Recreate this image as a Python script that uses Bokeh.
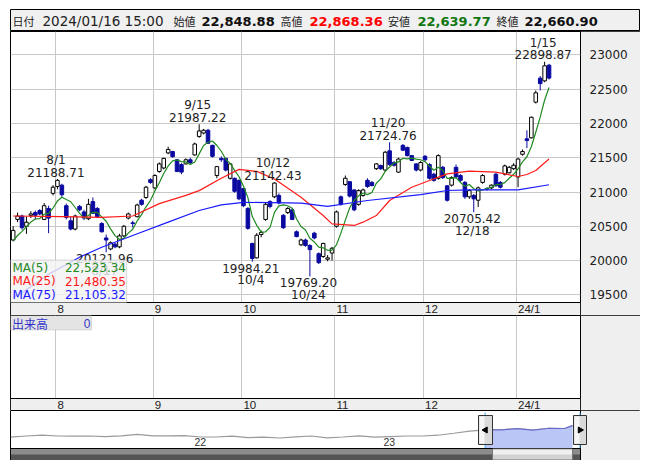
import numpy as np
import pandas as pd
from bokeh.plotting import figure
from bokeh.models import Range1d, FixedTicker, Label, BoxAnnotation, ColumnDataSource, Grid
from bokeh.layouts import column
from bokeh.embed import file_html
from bokeh.resources import INLINE

# ---------------- data ----------------
opens = [20300, 20600, 20650, 20500, 20660, 20700, 20730, 20600, 20760, 20980,
         21080, 21100, 20800, 20580, 20460, 20790, 20710, 20610, 20860, 20760,
         20540, 20330, 20170, 20240, 20200, 20360, 20620, 20550, 20640, 20880,
         20920, 21180, 21060, 21300, 21350, 21570, 21590, 21470, 21400, 21410,
         21470, 21540, 21810, 21860, 21900, 21680, 21240, 21490, 21490, 21200,
         21200, 21170, 21050, 20760, 20250, 20040, 20380, 20600, 20860, 20930,
         20950, 20660, 20700, 20740, 20420, 20230, 20300, 20220, 20400, 20100,
         20060, 20020, 20110, 20500, 20930, 21110, 21150, 21030, 20820, 20950,
         21170, 21140, 21340, 21385, 21320, 21600, 21430, 21290, 21680, 21650,
         21530, 21410, 21320, 21520, 21400, 21260, 21200, 21360, 21090, 21100,
         21360, 21240, 21140, 20930, 20950, 20880, 21140, 21050, 21060, 21260,
         21140, 21260, 21280, 21340, 21220, 21550, 21775, 21790, 22310, 22660,
         22620, 22848.88]
highs = [20500, 20700, 20670, 20640, 20720, 20730, 20750, 20840, 20800, 21100,
         21188.71, 21120, 20830, 20640, 20670, 20810, 20740, 20900, 20920, 20780,
         20560, 20380, 20280, 20260, 20390, 20520, 20700, 20580, 20830, 20900,
         21090, 21200, 21260, 21430, 21500, 21660, 21600, 21480, 21420, 21490,
         21500, 21720, 21987.22, 21920, 21920, 21690, 21380, 21520, 21500, 21420,
         21210, 21180, 21060, 20780, 20260, 20400, 20440, 20840, 20880, 21142.43,
         20980, 20680, 20780, 20760, 20440, 20320, 20320, 20240, 20420, 20120,
         20260, 20080, 20200, 20730, 20950, 21240, 21160, 21040, 21040, 21050,
         21200, 21160, 21420, 21400, 21600, 21724.76, 21450, 21500, 21700, 21660,
         21540, 21420, 21450, 21540, 21420, 21280, 21550, 21380, 21100, 21230,
         21400, 21260, 21160, 21040, 20970, 21080, 21260, 21070, 21110, 21280,
         21160, 21400, 21380, 21420, 21500, 21620, 21900, 22100, 22480, 22690,
         22898.87, 22868.36]
lows = [20280, 20560, 20450, 20390, 20620, 20600, 20660, 20590, 20400, 20950,
        21040, 20930, 20600, 20440, 20440, 20720, 20590, 20590, 20680, 20620,
        20410, 20121.96, 20150, 20180, 20180, 20340, 20600, 20480, 20630, 20800,
        20900, 21120, 21040, 21280, 21330, 21550, 21500, 21290, 21260, 21400,
        21400, 21530, 21790, 21840, 21700, 21500, 21200, 21440, 21300, 21180,
        20990, 20880, 20780, 20450, 19984.21, 20030, 20340, 20580, 20760, 20910,
        20820, 20460, 20680, 20590, 20340, 20210, 20200, 19769.20, 20310, 19950,
        20040, 19990, 20000, 20480, 20800, 21090, 20920, 20720, 20800, 20930,
        21060, 21080, 21320, 21320, 21300, 21380, 21370, 21280, 21600, 21520,
        21450, 21300, 21300, 21440, 21180, 21150, 21180, 21190, 20860, 21080,
        21200, 21150, 20900, 20900, 20705.42, 20780, 21120, 21020, 21040, 21080,
        21050, 21240, 21270, 21320, 21070, 21530, 21640, 21780, 22290, 22480,
        22600, 22639.77]
closes = [20440, 20650, 20480, 20560, 20680, 20660, 20680, 20800, 20620, 21070,
          21170, 20960, 20630, 20460, 20650, 20740, 20620, 20820, 20690, 20640,
          20420, 20300, 20260, 20200, 20360, 20500, 20680, 20540, 20810, 20820,
          21070, 21140, 21240, 21410, 21490, 21620, 21515, 21300, 21290, 21470,
          21430, 21700, 21890, 21900, 21710, 21520, 21370, 21470, 21320, 21410,
          21010, 20900, 20800, 20470, 20030, 20370, 20410, 20820, 20790, 21130,
          20840, 20480, 20760, 20600, 20350, 20300, 20220, 20160, 20330, 19970,
          20250, 20040, 20180, 20710, 20820, 21200, 20940, 20740, 21020, 21030,
          21080, 21095, 21410, 21340, 21580, 21400, 21390, 21480, 21610, 21530,
          21460, 21320, 21430, 21470, 21200, 21170, 21530, 21210, 20880, 21210,
          21220, 21170, 20930, 21020, 20900, 21060, 21240, 21045, 21100, 21090,
          21070, 21380, 21360, 21390, 21480, 21590, 21750, 22090, 22446, 22580,
          22840, 22660.90]
prev_closes = [20280, 20180, 20230, 20330]          # closes just before the window (for MA5)

ma25_idx = [0, 11, 20, 27, 33, 39, 42, 47, 51, 55, 59, 65, 70, 72, 77, 79, 82, 85,
            90, 94, 98, 103, 109, 114, 116, 118, 121]
ma25_val = [20650, 20640, 20630, 20650, 20830, 20950, 21020, 21200, 21330, 21300,
            21190, 20924, 20657, 20536, 20512, 20560, 20657, 20876, 21070, 21167,
            21265, 21303, 21289, 21226, 21255, 21313, 21480.35]
ma75_idx = [0, 2, 8, 15, 20, 27, 35, 42, 47, 52, 65, 71, 80, 92, 98, 103, 114, 121]
ma75_val = [19470, 19530, 19800, 20050, 20195, 20365, 20560, 20730, 20813, 20850,
            20837, 20790, 20876, 20963, 21022, 21032, 21032, 21105.32]

month_first_idx = [10, 32, 52, 73, 93, 114]
month_labels = ["8", "9", "10", "11", "12", "24/1"]
y_ticks = [19500, 20000, 20500, 21000, 21500, 22000, 22500, 23000]

peak_idx = [10, 42, 59, 85, 120]
peak_dates = ["8/1", "9/15", "10/12", "11/20", "1/15"]
trough_idx = [21, 54, 67, 104]
trough_dates = ["8/17", "10/4", "10/24", "12/18"]

ma_names = ["MA(5)", "MA(25)", "MA(75)"]
ma_last = ["22,523.34", "21,480.35", "21,105.32"]
ma_colors = ["#1f8a1f", "#ff1a1a", "#1a1aff"]

hdr_date = "2024/01/16 15:00"
hdr_names = ["始値", "高値", "安値", "終値"]
hdr_vals = ["22,848.88", "22,868.36", "22,639.77", "22,660.90"]
hdr_colors = ["#111111", "#ff0000", "#117711", "#111111"]

nav_month = list(range(36)) + [35.5]
nav_val = [16800, 17400, 17800, 17400, 17300, 17400, 17100, 17500, 18200, 17500, 17500, 17600,
           16900, 16900, 17300, 16600, 16800, 16400, 17000, 17400, 16500, 16900, 17500, 16800,
           17100, 17400, 17400, 17800, 18800, 19900, 20500, 20500, 21100, 20400, 21300, 21200,
           22660]
nav_year_labels = ["22", "23"]

# ---------------- layout helpers ----------------
W = 630
XR = (-0.6, 128.1)
VPX = (23340.0 - 19389.0) / 271.0          # price units per pixel
YR = (23340.0 - 284 * VPX, 23340.0)       # frame 31..315 (incl. date strip)
FONT = "DejaVu Sans"
GRID = "#c8c8c8"
PANEL = "#efefef"
DOWN = "#0a0aa0"
OUTLINE = {"outline": "1px solid black", "outline-offset": "-1px"}


def xd(px):
    return XR[0] + (px - 10) / 570.0 * (XR[1] - XR[0])


def yd(py):
    return YR[1] - (py - 31) * VPX


def base_fig(**kw):
    return figure(output_backend="svg", toolbar_location=None, title=None, frame_align=False, **kw)


# ---------------- header ----------------
h = base_fig(width=W, height=22, x_range=Range1d(0, W), y_range=Range1d(0, 22),
             x_axis_location=None, y_axis_location=None, min_border=0,
             background_fill_color="#f0f0f0", border_fill_color="#f0f0f0",
             outline_line_color="black")
h.xgrid.grid_line_color = None
h.ygrid.grid_line_color = None
hy = 10.5
h.add_layout(Label(x=2, y=hy, text="日付", text_font="Noto Sans CJK JP", text_font_size="11px",
                   text_baseline="middle", text_color="#222"))
h.add_layout(Label(x=32, y=hy, text=hdr_date, text_font=FONT, text_font_size="13.5px",
                   text_baseline="middle", text_color="#222"))
name_x = [163, 270, 377.5, 486]
val_x = [191, 299, 407, 514]
for nx, vx, nm, vv, cc in zip(name_x, val_x, hdr_names, hdr_vals, hdr_colors):
    h.add_layout(Label(x=nx, y=hy, text=nm, text_font="Noto Sans CJK JP", text_font_size="11px",
                       text_baseline="middle", text_color="#222"))
    h.add_layout(Label(x=vx, y=hy, text=vv, text_font=FONT, text_font_size="13px",
                       text_font_style="bold", text_baseline="middle", text_color=cc))

# ---------------- main price chart ----------------
n = len(closes)
idx = list(range(n))
p = base_fig(width=W, height=284, x_range=Range1d(*XR), y_range=Range1d(*YR),
             x_axis_location=None, y_axis_location="right",
             min_border_left=0, min_border_right=60, min_border_top=0, min_border_bottom=0,
             background_fill_color="white", border_fill_color=PANEL,
             outline_line_color="black", styles=OUTLINE)
p.xgrid.grid_line_color = None
ax = p.yaxis[0]
ax.ticker = FixedTicker(ticks=y_ticks)
ax.axis_line_color = None
ax.major_tick_line_color = None
ax.minor_tick_line_color = None
ax.major_label_text_font = FONT
ax.major_label_text_font_size = "12px"
ax.major_label_text_color = "#222"
ax.major_label_standoff = 3
p.ygrid.grid_line_color = GRID
p.ygrid.ticker = FixedTicker(ticks=y_ticks)
grid_pos = [m - 0.35 for m in month_first_idx]
p.add_layout(Grid(dimension=0, ticker=FixedTicker(ticks=grid_pos), grid_line_color=GRID))

up = [c >= o for o, c in zip(opens, closes)]
src = ColumnDataSource(dict(
    i=idx, hi=highs, lo=lows,
    top=[max(o, c) for o, c in zip(opens, closes)],
    bot=[min(o, c) for o, c in zip(opens, closes)],
    fill=["white" if u else DOWN for u in up],
    line=["black" if u else DOWN for u in up],
))
p.segment(x0="i", y0="lo", x1="i", y1="hi", line_color="line", line_width=1, source=src)
p.vbar(x="i", width=0.8, top="top", bottom="bot", fill_color="fill", line_color="line",
       line_width=1, source=src)

ma5 = pd.Series(prev_closes + closes).rolling(5).mean().iloc[len(prev_closes):].tolist()
p.line(idx, ma5, line_color=ma_colors[0], line_width=1.2)
p.line(ma25_idx, ma25_val, line_color=ma_colors[1], line_width=1.2)
p.line(ma75_idx, ma75_val, line_color=ma_colors[2], line_width=1.2)

# date strip at the bottom of the price panel
p.quad(left=[XR[0]], right=[XR[1]], bottom=[YR[0]], top=[yd(302)], fill_color=PANEL,
       line_color="black", line_width=1)

lab_kw = dict(text_font=FONT, text_font_size="12px", text_color="#222",
              text_align="center", text_baseline="middle")
for i, d in zip(peak_idx, peak_dates):
    p.add_layout(Label(x=i, y=highs[i], x_offset=-1.5, y_offset=7, text=f"{highs[i]:.2f}", **lab_kw))
    p.add_layout(Label(x=i, y=highs[i], x_offset=-1.5, y_offset=19, text=d, **lab_kw))
for i, d in zip(trough_idx, trough_dates):
    p.add_layout(Label(x=i, y=lows[i], x_offset=-1.5, y_offset=-6.5, text=f"{lows[i]:.2f}", **lab_kw))
    p.add_layout(Label(x=i, y=lows[i], x_offset=-1.5, y_offset=-18.5, text=d, **lab_kw))

# MA legend box
p.add_layout(BoxAnnotation(left=XR[0], right=xd(126), bottom=yd(302), top=yd(259.5),
                           fill_color="#f2f2f2", fill_alpha=0.8, line_color="#9a9a9a", line_width=1))
for k, (nm, vv, cc) in enumerate(zip(ma_names, ma_last, ma_colors)):
    yy = yd(267.3 + 13.4 * k)
    p.add_layout(Label(x=XR[0], x_offset=2, y=yy, text=nm, text_font=FONT, text_font_size="12px",
                       text_color=cc, text_baseline="middle", text_align="left"))
    p.add_layout(Label(x=xd(125.5), y=yy, text=vv, text_font=FONT, text_font_size="12px",
                       text_color=cc, text_baseline="middle", text_align="right"))

month_kw = dict(text_font="Liberation Sans", text_font_size="11.5px", text_color="#222",
                text_align="left", text_baseline="middle")
for g, t in zip(grid_pos, month_labels):
    p.add_layout(Label(x=g, x_offset=1.5, y=yd(308.8), text=t, **month_kw))

# ---------------- volume panel ----------------
def vy(py):
    return 1 - (py - 315) / 83.0


v = base_fig(width=W, height=95, x_range=Range1d(*XR), y_range=Range1d(vy(410), 1),
             x_axis_location=None, y_axis_location=None,
             min_border_left=0, min_border_right=60, min_border_top=0, min_border_bottom=0,
             background_fill_color="white", border_fill_color=PANEL,
             outline_line_color="black", styles=OUTLINE)
v.xgrid.grid_line_color = None
v.ygrid.grid_line_color = None
v.add_layout(Grid(dimension=0, ticker=FixedTicker(ticks=grid_pos), grid_line_color=GRID))
v.quad(left=[XR[0]], right=[XR[1]], bottom=[vy(410)], top=[vy(398)], fill_color=PANEL,
       line_color="black", line_width=1)

v.add_layout(BoxAnnotation(left=XR[0], right=xd(91), top=1, bottom=vy(329.5),
                           fill_color="#e4e4e4", fill_alpha=1, line_color="#a0a0a0", line_width=1))
v.add_layout(Label(x=XR[0], x_offset=1.5, y=vy(322.5), text="出来高", text_font="Noto Sans CJK JP",
                   text_font_size="12px", text_color="#3333cc", text_baseline="middle"))
v.add_layout(Label(x=xd(90), y=vy(322.5), text="0", text_font="Liberation Sans",
                   text_font_size="12px", text_color="#3333cc", text_baseline="middle",
                   text_align="right"))
for g, t in zip(grid_pos, month_labels):
    v.add_layout(Label(x=g, x_offset=1.5, y=vy(404.2), text=t, **month_kw))

# ---------------- navigator ----------------
nv = base_fig(width=W, height=50, x_range=Range1d(10, 640), y_range=Range1d(0, 50),
              x_axis_location=None, y_axis_location=None, min_border=0,
              background_fill_color="white", border_fill_color="white",
              outline_line_color="black")
nv.xgrid.grid_line_color = None
nv.ygrid.grid_line_color = None
nv.extra_x_ranges = {"m": Range1d(0, 36 * 630 / 570.0)}
nv.extra_y_ranges = {"v": Range1d(5060, 30260)}

nv.quad(left=[580], right=[640], bottom=[0], top=[50], fill_color=PANEL, line_color=None)
nv.segment(x0=[580], y0=[0], x1=[580], y1=[50], line_color="black")

for xx, t in zip([194, 383], nav_year_labels):
    nv.add_layout(Label(x=xx, y=19, text=t, text_font="Liberation Sans", text_font_size="10.5px",
                        text_color="#333", text_baseline="middle"))

nv.line(nav_month, nav_val, x_range_name="m", y_range_name="v", line_color="#9a9a9a", line_width=1.2)
sel_m = [m for m in nav_month if m >= 30]
sel_v = [vv for m, vv in zip(nav_month, nav_val) if m >= 30]
nv.varea(x=sel_m, y1=[11110] * len(sel_m), y2=sel_v, x_range_name="m", y_range_name="v",
         fill_color="#b9c6f6")
nv.line(sel_m, sel_v, x_range_name="m", y_range_name="v", line_color="#6a6ac8", line_width=1.2)

nv.segment(x0=[484.6, 579.5], y0=[12, 12], x1=[484.6, 579.5], y1=[48, 48], line_color="#3fa9f5")

# scrollbar
nv.quad(left=[10], right=[580], bottom=[0], top=[12], fill_color="#555555", line_color="black")
nv.quad(left=[10.5], right=[579.5], bottom=[6], top=[11.5], fill_color="#8c8c8c", line_color=None)
nv.quad(left=[492], right=[572], bottom=[0.5], top=[11.5], fill_color="#d2d2d2", line_color="#777777")
nv.quad(left=[492.5], right=[571.5], bottom=[6], top=[11], fill_color="#f0f0f0", line_color=None)

# handles
nv.quad(left=[478, 573], right=[492, 586], bottom=[16, 16], top=[45, 45],
        fill_color="#dadada", line_color="#333333")
nv.quad(left=[479, 574], right=[484, 579], bottom=[17, 17], top=[44, 44],
        fill_color="#f6f6f6", line_color=None)
nv.scatter(x=[485, 579.5], y=[30.5, 30.5], marker="triangle", size=6,
           angle=[np.pi / 2, -np.pi / 2], fill_color="black", line_color="black")

layout = column(h, p, v, nv, spacing=0, margin=(9, 0, 0, 10))
open("out.html", "w").write(file_html(layout, INLINE))
